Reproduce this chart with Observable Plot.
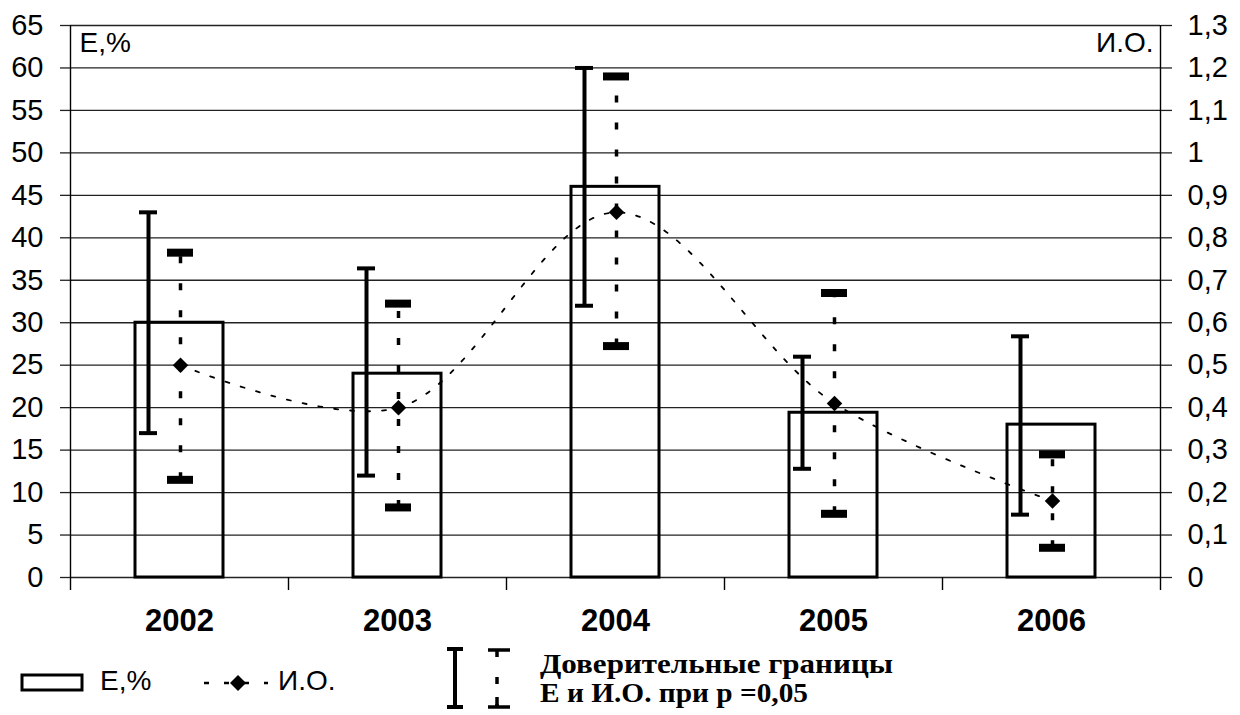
<!DOCTYPE html>
<html>
<head>
<meta charset="utf-8">
<script src="https://cdn.jsdelivr.net/npm/d3@7"></script>
<script src="https://cdn.jsdelivr.net/npm/@observablehq/plot@0.6"></script>
<style>
  html, body { margin: 0; padding: 0; background: #fff; }
  #chart svg { display: block; }
  #legend { position: relative; width: 1240px; height: 75px; }
  #legend svg { display: block; }
</style>
</head>
<body>
<div id="chart"></div>
<div id="legend"></div>
<script>
// ---- data ----
const years  = ["2002", "2003", "2004", "2005", "2006"];
const ePct   = [30, 24, 46, 19.4, 18];          // Е,% (bars, left axis)
const eLow   = [17, 12, 32, 12.8, 7.4];         // lower confidence bound of Е
const eHigh  = [43, 36.4, 60, 26, 28.4];        // upper confidence bound of Е
const ioVal  = [0.5, 0.4, 0.86, 0.41, 0.18];    // И.О. (points, right axis)
const ioLow  = [0.23, 0.165, 0.545, 0.15, 0.07];
const ioHigh = [0.765, 0.645, 1.18, 0.67, 0.29];
const eTicks  = [0, 5, 10, 15, 20, 25, 30, 35, 40, 45, 50, 55, 60, 65];
const ioTicks = [0, 0.1, 0.2, 0.3, 0.4, 0.5, 0.6, 0.7, 0.8, 0.9, 1, 1.1, 1.2, 1.3];

// right axis (0..1.3) is aligned to the left axis (0..65)
const K = 65 / 1.3;
const rows = years.map((year, i) => ({
  year,
  e: ePct[i], eLo: eLow[i], eHi: eHigh[i],
  io: ioVal[i] * K, ioLo: ioLow[i] * K, ioHi: ioHigh[i] * K
}));
const fmtIO = d => String(Math.round(d / K * 10) / 10).replace(".", ",");

const W = 1240, H = 640;
const mL = 70, mR = 80, mT = 25, mB = 63;
const step = (W - mL - mR) / years.length;
const black = "#000";

const chart = Plot.plot({
  width: W, height: H,
  marginLeft: mL, marginRight: mR, marginTop: mT, marginBottom: mB,
  style: { fontFamily: "'Liberation Sans', Arial, sans-serif", fontSize: "29px", color: black, background: "#fff" },
  x: { type: "band", domain: years, padding: 0, label: null },
  y: { domain: [0, 65], label: null },
  marks: [
    // horizontal grid
    Plot.ruleY(eTicks, { stroke: "#222", strokeWidth: 1.3 }),
    // left / right axis lines and category separators
    Plot.ruleX([years[0]], { dx: -step / 2, insetBottom: -13, stroke: black, strokeWidth: 1.4 }),
    Plot.ruleX([years[years.length - 1]], { dx: step / 2, insetBottom: -13, stroke: black, strokeWidth: 1.4 }),
    Plot.ruleX(years.slice(1), { dx: -step / 2, insetTop: H - mT - mB, insetBottom: -13, stroke: black, strokeWidth: 1.4 }),
    // axes
    Plot.axisY(eTicks, { anchor: "left", tickSize: 10, tickPadding: 17, label: null, stroke: "#222", strokeWidth: 1.3 }),
    Plot.axisY(eTicks, { anchor: "right", tickSize: 11, tickPadding: 16, tickFormat: fmtIO, label: null, stroke: "#222", strokeWidth: 1.3 }),
    Plot.axisX({ tickSize: 0, tickPadding: 31, fontWeight: "bold", fontSize: 31, label: null }),
    // axis titles inside the frame
    Plot.text(["Е,%"], { frameAnchor: "top-left", dx: 9, dy: 7, textAnchor: "start", lineAnchor: "top", fontSize: 28, fill: black }),
    Plot.text(["И.О."], { frameAnchor: "top-right", dx: -7, dy: 7, textAnchor: "end", lineAnchor: "top", fontSize: 28, fill: black }),
    // bars (outline only)
    Plot.barY(rows, { x: "year", y: "e", fill: "none", stroke: black, strokeWidth: 3, insetLeft: 65, insetRight: 65 }),
    // Е confidence bounds (solid)
    Plot.ruleX(rows, { x: "year", y1: "eLo", y2: "eHi", dx: -31, stroke: black, strokeWidth: 4 }),
    Plot.tickY(rows, { x: "year", y: "eLo", dx: -31, inset: 100, stroke: black, strokeWidth: 4 }),
    Plot.tickY(rows, { x: "year", y: "eHi", dx: -31, inset: 100, stroke: black, strokeWidth: 4 }),
    // И.О. confidence bounds (dashed)
    Plot.ruleX(rows, { x: "year", y1: "ioLo", y2: "ioHi", dx: 1, stroke: black, strokeWidth: 3.5, strokeDasharray: "7,20" }),
    Plot.tickY(rows, { x: "year", y: "ioLo", dx: 1, inset: 96, stroke: black, strokeWidth: 8 }),
    Plot.tickY(rows, { x: "year", y: "ioHi", dx: 1, inset: 96, stroke: black, strokeWidth: 8 }),
    // И.О. smoothed trend line + points
    Plot.line(rows, { x: "year", y: "io", dx: 1, curve: "catmull-rom", stroke: black, strokeWidth: 1.8, strokeDasharray: "4,12" }),
    Plot.dot(rows, { x: "year", y: "io", dx: 1, symbol: "diamond2", r: 7, fill: black, stroke: "none" })
  ]
});
document.getElementById("chart").appendChild(chart);

// ---- legend below the chart ----
const ns = "http://www.w3.org/2000/svg";
const lg = d3.select("#legend").append("svg").attr("xmlns", ns).attr("width", W).attr("height", 75);
lg.append("rect").attr("x", 22).attr("y", 35).attr("width", 60).attr("height", 15)
  .attr("fill", "none").attr("stroke", black).attr("stroke-width", 3);
lg.append("text").attr("x", 100).attr("y", 50).text("Е,%")
  .attr("font-family", "'Liberation Sans', Arial, sans-serif").attr("font-size", 28).attr("fill", black);
lg.append("line").attr("x1", 204).attr("x2", 268).attr("y1", 43).attr("y2", 43)
  .attr("stroke", black).attr("stroke-width", 2.5).attr("stroke-dasharray", "5,15");
lg.append("path").attr("d", "M238,35 L246,43 L238,51 L230,43 Z").attr("fill", black);
lg.append("text").attr("x", 278).attr("y", 50).text("И.О.")
  .attr("font-family", "'Liberation Sans', Arial, sans-serif").attr("font-size", 28).attr("fill", black);
// solid confidence bar
lg.append("line").attr("x1", 455).attr("x2", 455).attr("y1", 8).attr("y2", 68).attr("stroke", black).attr("stroke-width", 4);
lg.append("line").attr("x1", 447).attr("x2", 463).attr("y1", 9).attr("y2", 9).attr("stroke", black).attr("stroke-width", 4);
lg.append("line").attr("x1", 447).attr("x2", 463).attr("y1", 67).attr("y2", 67).attr("stroke", black).attr("stroke-width", 4);
// dashed confidence bar
lg.append("line").attr("x1", 497).attr("x2", 497).attr("y1", 10).attr("y2", 67).attr("stroke", black)
  .attr("stroke-width", 3.5).attr("stroke-dasharray", "7,20");
lg.append("line").attr("x1", 488).attr("x2", 510).attr("y1", 10).attr("y2", 10).attr("stroke", black).attr("stroke-width", 3.5);
lg.append("line").attr("x1", 488).attr("x2", 510).attr("y1", 67).attr("y2", 67).attr("stroke", black).attr("stroke-width", 3.5);
lg.append("line").attr("x1", 497).attr("x2", 497).attr("y1", 57).attr("y2", 67).attr("stroke", black).attr("stroke-width", 3.5);
// explanatory text
const serif = "'Liberation Serif', 'Times New Roman', serif";
lg.append("text").attr("x", 540).attr("y", 33).text("Доверительные границы")
  .attr("textLength", 353).attr("lengthAdjust", "spacingAndGlyphs")
  .attr("font-family", serif).attr("font-weight", "bold").attr("font-size", 28).attr("fill", black);
lg.append("text").attr("x", 540).attr("y", 62).text("Е и И.О. при р =0,05")
  .attr("textLength", 268).attr("lengthAdjust", "spacingAndGlyphs")
  .attr("font-family", serif).attr("font-weight", "bold").attr("font-size", 28).attr("fill", black);
</script>
</body>
</html>
